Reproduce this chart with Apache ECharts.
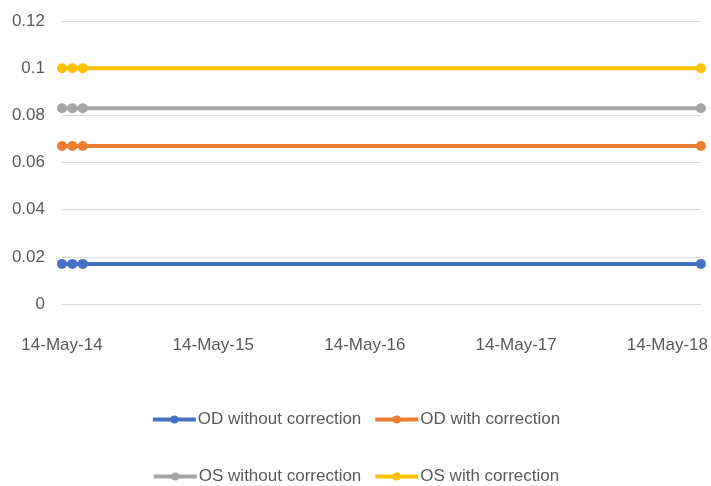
<!DOCTYPE html>
<html>
<head>
<meta charset="utf-8">
<script src="https://cdn.jsdelivr.net/npm/echarts@6/dist/echarts.min.js"></script>
<style>
html,body{margin:0;padding:0;background:#fff;}
#chart{width:711px;height:486px;}
</style>
</head>
<body>
<div id="chart"></div>
<script>
// Dates of the measurements
const dates = ['2014-05-14', '2014-06-08', '2014-07-03', '2018-08-03'];
// Series names
const seriesNames = ['OD without correction', 'OD with correction', 'OS without correction', 'OS with correction'];
// Series values
const odWithout = [0.017, 0.017, 0.017, 0.017];
const odWith = [0.067, 0.067, 0.067, 0.067];
const osWithout = [0.083, 0.083, 0.083, 0.083];
const osWith = [0.1, 0.1, 0.1, 0.1];
// X tick labels
const xTickDates = ['2014-05-14', '2015-05-14', '2016-05-14', '2017-05-14', '2018-05-14'];
// Y axis range
const yMin = 0, yMax = 0.12, yStep = 0.02;

const colors = ['#4472C4', '#ED7D31', '#A5A5A5', '#FFC000'];
const font = "'Liberation Sans', Arial, sans-serif";
const months = ['Jan','Feb','Mar','Apr','May','Jun','Jul','Aug','Sep','Oct','Nov','Dec'];

function ts(s) { const p = s.split('-').map(Number); return Date.UTC(p[0], p[1] - 1, p[2]); }
function fmt(v) {
  const d = new Date(v);
  return d.getUTCDate() + '-' + months[d.getUTCMonth()] + '-' + String(d.getUTCFullYear()).slice(2);
}

const allSeries = [odWithout, odWith, osWithout, osWith];
const chart = echarts.init(document.getElementById('chart'), null, {renderer: 'canvas'});
const legendCommon = {
  left: 'center', itemWidth: 43, itemHeight: 10, itemGap: 12,
  lineStyle: {width: 4},
  textStyle: {fontFamily: font, fontSize: 17, color: '#595959', padding: [0, 0, 0, -3]}
};
chart.setOption({
  animation: false,
  color: colors,
  grid: {left: 62, right: 9, top: 21, bottom: 182, containLabel: false},
  legend: [
    Object.assign({top: 406, data: [seriesNames[0], seriesNames[1]]}, legendCommon),
    Object.assign({top: 463, data: [seriesNames[2], seriesNames[3]]}, legendCommon)
  ],
  xAxis: {
    type: 'value',
    min: ts(dates[0]),
    max: ts(dates[dates.length - 1]),
    axisLine: {show: false},
    axisTick: {show: false},
    splitLine: {show: false},
    axisLabel: {
      customValues: xTickDates.map(ts),
      formatter: fmt,
      fontFamily: font, fontSize: 17, color: '#595959', margin: 33,
      hideOverlap: false
    }
  },
  yAxis: {
    type: 'value', min: yMin, max: yMax, interval: yStep,
    axisLine: {show: false}, axisTick: {show: false},
    splitLine: {lineStyle: {color: '#D9D9D9', width: 1}},
    axisLabel: {
      formatter: v => String(+v.toFixed(2)),
      fontFamily: font, fontSize: 17, color: '#595959', margin: 17
    }
  },
  series: allSeries.map((vals, i) => ({
    name: seriesNames[i],
    type: 'line',
    data: dates.map((d, j) => [ts(d), vals[j]]),
    symbol: 'circle', symbolSize: 10, showSymbol: true,
    lineStyle: {width: 4, color: colors[i]},
    itemStyle: {color: colors[i]},
    z: 2
  }))
});
</script>
</body>
</html>
